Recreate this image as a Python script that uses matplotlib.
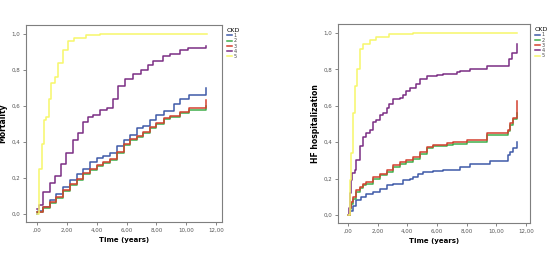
import numpy as np
import matplotlib
matplotlib.use('Agg')
import matplotlib.pyplot as plt

# CKD groups and colours (SPSS style)
groups = ['1', '2', '3', '4', '5']
colors = ['#3f5aa8', '#3fae4a', '#d3402f', '#7b2d84', '#f7f76a']

# ---- mortality (left panel), step points ----
mort_t = {
    '1': [0, 0.07, 0.4, 0.85, 1.3, 1.75, 2.2, 2.65, 3.1, 3.55, 4.0, 4.45, 4.9, 5.35, 5.8, 6.2, 6.7, 7.1, 7.6, 8.0, 8.5, 9.2, 9.6, 10.2, 11.35],
    '2': [0, 0.4, 0.85, 1.3, 1.75, 2.2, 2.65, 3.1, 3.55, 4.0, 4.45, 4.9, 5.35, 5.8, 6.2, 6.7, 7.1, 7.6, 8.0, 8.5, 8.9, 9.6, 10.2, 11.35],
    '3': [0, 0.4, 0.85, 1.3, 1.75, 2.2, 2.65, 3.1, 3.55, 4.0, 4.45, 4.9, 5.35, 5.8, 6.2, 6.7, 7.1, 7.6, 8.0, 8.5, 8.9, 9.6, 10.2, 11.35],
    '4': [0, 0.13, 0.4, 0.85, 1.19, 1.63, 1.97, 2.42, 2.75, 3.09, 3.43, 3.76, 4.2, 4.66, 5.1, 5.44, 5.89, 6.45, 7.0, 7.45, 7.8, 8.46, 8.9, 9.58, 10.14, 11.35],
    '5': [0, 0.13, 0.3, 0.5, 0.63, 0.8, 0.96, 1.19, 1.4, 1.75, 2.08, 2.5, 3.3, 4.2, 11.37],
}
mort_s = {
    '1': [0.0, 0.015, 0.04, 0.08, 0.11, 0.15, 0.19, 0.22, 0.25, 0.29, 0.31, 0.32, 0.34, 0.38, 0.41, 0.44, 0.48, 0.49, 0.52, 0.55, 0.57, 0.61, 0.64, 0.66, 0.70],
    '2': [0.01, 0.033, 0.06, 0.09, 0.126, 0.163, 0.19, 0.22, 0.246, 0.265, 0.283, 0.30, 0.34, 0.385, 0.41, 0.43, 0.45, 0.48, 0.50, 0.53, 0.54, 0.56, 0.58, 0.60],
    '3': [0.01, 0.038, 0.065, 0.095, 0.132, 0.168, 0.196, 0.226, 0.252, 0.271, 0.289, 0.306, 0.346, 0.39, 0.416, 0.436, 0.456, 0.486, 0.506, 0.536, 0.546, 0.566, 0.59, 0.635],
    '4': [0.03, 0.05, 0.12, 0.17, 0.21, 0.28, 0.34, 0.41, 0.45, 0.51, 0.54, 0.55, 0.58, 0.59, 0.64, 0.71, 0.75, 0.78, 0.80, 0.83, 0.85, 0.876, 0.89, 0.91, 0.92, 0.935],
    '5': [0.0, 0.25, 0.39, 0.52, 0.54, 0.64, 0.73, 0.76, 0.84, 0.91, 0.96, 0.98, 0.996, 1.0, 1.0],
}

# ---- HF hospitalization (right panel) ----
hf_t = {
    '1': [0, 0.11, 0.34, 0.56, 0.9, 1.24, 1.7, 2.14, 2.6, 3.04, 3.72, 4.17, 4.4, 4.73, 5.07, 5.75, 6.42, 7.1, 7.55, 8.0, 8.2, 9.35, 9.55, 10.8, 10.95, 11.12, 11.37],
    '2': [0, 0.11, 0.23, 0.34, 0.56, 0.79, 1.0, 1.24, 1.7, 2.14, 2.6, 3.04, 3.5, 3.9, 4.4, 4.85, 5.3, 5.75, 6.65, 7.1, 8.0, 9.35, 10.8, 10.95, 11.15, 11.37],
    '3': [0, 0.11, 0.23, 0.34, 0.56, 0.79, 1.0, 1.24, 1.7, 2.14, 2.6, 3.04, 3.5, 3.9, 4.4, 4.85, 5.3, 5.75, 6.65, 7.1, 8.0, 9.35, 10.8, 10.95, 11.15, 11.37],
    '4': [0, 0.05, 0.16, 0.23, 0.3, 0.45, 0.56, 0.79, 1.0, 1.24, 1.46, 1.7, 1.9, 2.14, 2.36, 2.6, 2.8, 3.04, 3.5, 3.72, 3.94, 4.17, 4.62, 4.84, 5.3, 5.97, 6.42, 7.33, 7.55, 8.2, 8.4, 9.35, 10.85, 11.05, 11.37],
    '5': [0, 0.11, 0.23, 0.34, 0.45, 0.63, 0.79, 1.0, 1.46, 1.9, 2.8, 4.4, 11.37],
}
hf_s = {
    '1': [0.0, 0.024, 0.05, 0.08, 0.098, 0.117, 0.126, 0.144, 0.163, 0.172, 0.19, 0.20, 0.21, 0.228, 0.237, 0.24, 0.246, 0.25, 0.265, 0.265, 0.28, 0.28, 0.298, 0.33, 0.348, 0.367, 0.40],
    '2': [0.0, 0.033, 0.063, 0.09, 0.127, 0.146, 0.163, 0.172, 0.20, 0.218, 0.236, 0.264, 0.282, 0.29, 0.31, 0.338, 0.368, 0.377, 0.386, 0.392, 0.40, 0.44, 0.46, 0.495, 0.525, 0.56],
    '3': [0.0, 0.04, 0.07, 0.098, 0.135, 0.154, 0.172, 0.18, 0.21, 0.228, 0.246, 0.274, 0.29, 0.30, 0.32, 0.348, 0.376, 0.385, 0.394, 0.40, 0.41, 0.45, 0.468, 0.505, 0.533, 0.625],
    '4': [0.0, 0.04, 0.12, 0.19, 0.23, 0.25, 0.30, 0.38, 0.43, 0.45, 0.47, 0.51, 0.52, 0.55, 0.56, 0.59, 0.61, 0.635, 0.645, 0.66, 0.68, 0.70, 0.72, 0.745, 0.765, 0.77, 0.774, 0.787, 0.79, 0.80, 0.805, 0.82, 0.857, 0.89, 0.94],
    '5': [0.0, 0.19, 0.34, 0.56, 0.71, 0.80, 0.91, 0.94, 0.96, 0.98, 0.996, 1.0, 1.0],
}

xticks = [0, 2, 4, 6, 8, 10, 12]
xticklabels = [',00', '2,00', '4,00', '6,00', '8,00', '10,00', '12,00']
yticks = [0, 0.2, 0.4, 0.6, 0.8, 1.0]
yticklabels = ['0,0', '0,2', '0,4', '0,6', '0,8', '1,0']

frame = '#7f7f7f'

fig = plt.figure(figsize=(5.6, 2.61), dpi=100)
ax1 = fig.add_axes([26/560, 1 - 222/261, 196/560, 197/261])
ax2 = fig.add_axes([338/560, 1 - 223/261, 192/560, 199/261])


def draw(ax, tt, ss, ylabel, xlim, legx):
    handles = []
    for g, c in zip(groups, colors):
        h, = ax.step(tt[g], ss[g], where='post', color=c, lw=1.1)
        handles.append(h)
    ax.set_xlim(*xlim)
    ax.set_ylim(-0.044, 1.05)
    ax.set_xticks(xticks)
    ax.set_xticklabels(xticklabels)
    ax.set_yticks(yticks)
    ax.set_yticklabels(yticklabels)
    ax.tick_params(labelsize=4, colors='#555555', length=2, width=0.5, pad=2)
    for sp in ax.spines.values():
        sp.set_color(frame)
        sp.set_linewidth(0.8)
    ax.set_xlabel('Time (years)', fontsize=5, fontweight='bold', labelpad=3)
    ax.set_ylabel(ylabel, fontsize=5.5, fontweight='bold', labelpad=3)
    leg = ax.legend(handles, groups, title='CKD', loc='upper left',
                    bbox_to_anchor=(legx, 1.0), frameon=False, fontsize=3.6,
                    title_fontsize=4.5, handlelength=1.0, handletextpad=0.3,
                    labelspacing=0.05, borderaxespad=0.2)
    leg._legend_box.align = 'left'
    for t in leg.get_texts():
        t.set_color('#444444')


draw(ax1, mort_t, mort_s, 'Mortality', (-0.74, 12.4), 1.01)
draw(ax2, hf_t, hf_s, 'HF hospitalization', (-0.67, 12.27), 1.01)

fig.savefig('out.png', dpi=100)
